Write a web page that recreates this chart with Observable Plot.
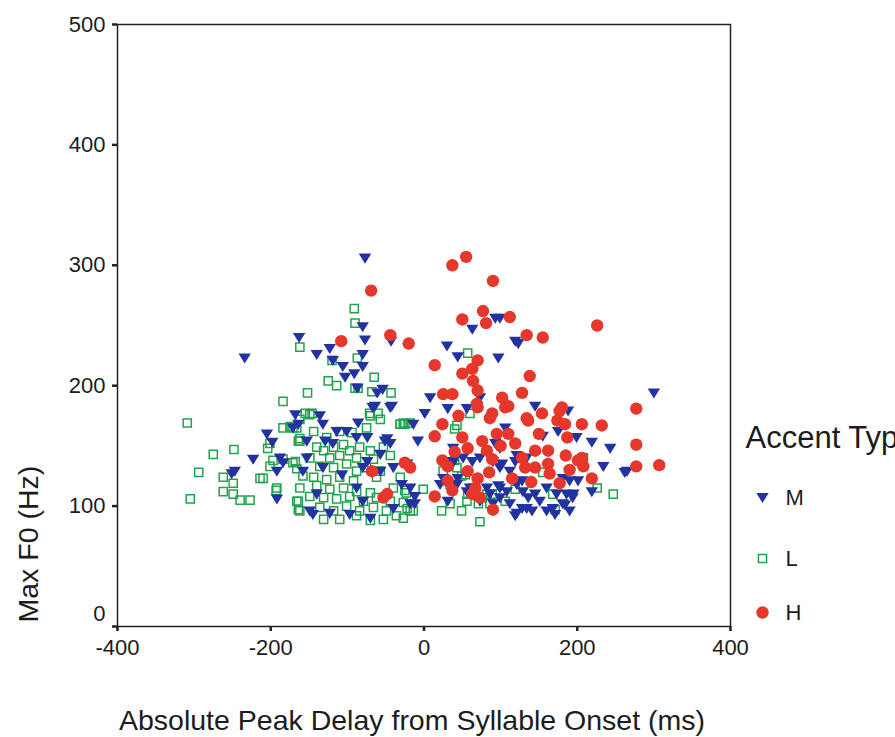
<!DOCTYPE html>
<html>
<head>
<meta charset="utf-8">
<script src="https://cdn.jsdelivr.net/npm/d3@7"></script>
<script src="https://cdn.jsdelivr.net/npm/@observablehq/plot@0.6"></script>
<style>
  html, body { margin: 0; padding: 0; background: #fff; overflow: hidden; }
  #chart svg { display: block; overflow: hidden; }
</style>
</head>
<body>
<div id="chart"></div>
<script>
// ---- Data (Absolute peak delay in ms, Max F0 in Hz) ----
const accentTypes = ["M", "L", "H"];
const xTicks = [-400, -200, 0, 200, 400];
const yTicks = [0, 100, 200, 300, 400, 500];
const xTitle = "Absolute Peak Delay from Syllable Onset (ms)";
const yTitle = "Max F0 (Hz)";
const legendTitle = "Accent Type";

const pointsM = [
  [-77,306],[-234,223],[-163,240],[-80,249],[-77,238],[-123,231],[-140,226],[-80,226],[-119,221],[-106,216],
  [-80,216],[-91,210],[-103,207],[-87,198],[-54,197],[-61,194],[-42,183],[-64,183],[-43,237],
  [63,247],[93,256],[99,256],[119,237],[123,235],[30,233],[44,224],[97,223],[8,190],[31,181],[56,181],[73,190],
  [1,177],[-14,168],[-8,154],[145,183],[175,162],[155,158],[219,153],[243,148],[234,133],[265,129],[300,194],
  [99,148],[121,142],[134,140],[90,137],[99,132],[112,129],[73,140],[63,137],[51,140],[38,137],[25,123],[21,118],
  [43,118],[60,115],[82,115],[99,115],[108,112],[121,118],[129,112],[136,107],[145,110],[151,104],[160,115],
  [173,110],[186,110],[195,110],[181,102],[168,98],[190,121],[160,96],[134,98],[121,94],[112,102],[99,107],
  [86,110],[90,102],[73,104],[56,112],[119,92],[171,93],[219,112],[190,96],[199,157],
  [262,128],[181,123],[201,121],[194,107],[184,101],[188,179],
  [-168,176],[-164,168],[-205,160],[-198,153],[-223,139],[-247,129],[-251,127],[-188,140],[-184,136],[-192,129],[-192,106],
  [-136,175],[-132,168],[-86,169],[-129,154],[-153,140],[-119,152],[-101,162],[-74,157],[-51,154],[-44,152],
  [-44,182],[-67,182],[-158,129],[-145,93],[-97,93],[-70,90],[-22,135],[-12,102],[-29,118],[-57,129],[-74,137],
  [-171,165],[-114,162],[-88,157],[-48,156],[-153,154],[-132,132],[-107,126],[-80,132],[-57,143],[-40,132],
  [-18,115],[-140,110],[-88,115],[-149,96],[-123,94],[-40,98],[-18,102],[-80,104],
  [38,148],[106,165],[93,152],[37,135],[102,135],[119,137],[44,123],[97,117],[128,121],[-12,108],[31,104],[128,98],[141,96]
];

const pointsL = [
  [-309,169],[-305,106],[-275,143],[-248,147],[-294,128],[-262,124],[-249,119],[-262,112],[-249,110],[-240,105],
  [-227,105],[-210,123],[-184,187],[-184,165],[-171,165],[-204,148],[-201,133],[-193,113],[-164,154],[-184,139],
  [-171,136],[-166,131],[-164,104],[-164,97],
  [-152,194],[-162,172],[-155,177],[-146,177],[-175,166],[-162,156],[-201,152],[-125,204],[-114,200],[-91,264],
  [-90,252],[-162,232],[-120,221],[-87,223],[-65,207],[-43,194],[-68,195],[-86,198],[-71,177],[-60,177],
  [-31,168],[-25,168],[-197,138],[-214,123],[-192,115],[-90,198],
  [-149,176],[-70,175],[-57,172],[-31,168],[-18,169],[-166,165],[-144,162],[-110,162],[-94,161],[-75,165],
  [-162,154],[-127,157],[-140,149],[-131,146],[-118,149],[-105,151],[-97,146],[-84,149],[-70,146],[-53,149],
  [-168,137],[-149,140],[-123,140],[-110,142],[-88,140],[-66,139],[-44,142],[-136,133],[-118,132],[-101,135],
  [-88,129],[-75,132],[-57,129],[-158,125],[-144,124],[-127,122],[-110,124],[-92,121],[-62,124],[-31,124],
  [-162,115],[-140,117],[-123,114],[-105,115],[-88,112],[-70,111],[-40,115],[-23,111],[-166,104],[-149,108],
  [-131,107],[-114,106],[-97,108],[-79,104],[-62,107],[-44,104],[-27,103],[-162,96],[-136,99],[-118,96],
  [-101,100],[-84,96],[-66,99],[-49,96],[-36,92],[-18,96],[-131,89],[-110,89],[-88,92],[-70,88],[-53,89],[-27,90],
  [57,227],[-27,169],[40,164],[60,177],[208,140],[226,115],[247,110],[-25,113],[-1,114],[-22,98],[-14,96],
  [23,96],[34,102],[49,96],[73,87],[82,110],[119,114],[25,129],[43,132],[49,125],[34,118],[57,110],[71,102],
  [86,102],[40,138],[43,167],[54,126],[63,115],[76,107],[89,110],[56,104],[106,104],[155,128],[168,110],[171,97]
];

const pointsH = [
  [37,300],[55,307],[90,287],[-69,279],[-108,237],[-44,242],[-20,235],[77,262],[50,255],[81,252],[112,257],
  [134,242],[155,240],[226,250],[14,217],[70,221],[63,214],[50,210],[138,208],[64,204],[25,193],[37,193],
  [70,196],[102,190],[128,194],[180,182],[69,185],[110,183],[277,181],[277,151],[277,133],[307,134],[206,168],
  [232,167],[187,157],[177,179],[174,171],[185,142],[201,138],[208,133],[219,123],[177,119],[162,146],[162,135],
  [164,127],[-25,136],[-18,132],[-68,129],[-48,110],[-53,107],[24,168],[14,158],[50,157],[70,182],[89,177],
  [106,182],[110,160],[136,171],[154,177],[57,148],[76,154],[82,146],[24,138],[31,133],[57,129],[70,123],
  [67,115],[89,139],[119,152],[128,140],[145,146],[115,123],[31,121],[14,108],[37,113],[63,110],[90,97],
  [132,132],[145,132],[73,107],[86,173],[134,173],[184,168],[206,140],[45,175],[95,160],[100,150],[150,160],
  [40,145],[85,128],[140,120],[190,130]
];

// ---- Build table ----
const rows = [];
for (const [type, pts] of [["L", pointsL], ["M", pointsM], ["H", pointsH]]) {
  for (const [delay, f0] of pts) rows.push({type, delay, f0});
}

const colors = {M: "#2232a0", L: "#22a24c", H: "#e6372c"};

const triangleDown = {
  draw(context, size) {
    const r = Math.sqrt(size / Math.PI);
    context.moveTo(-r, -r * 0.72);
    context.lineTo(r, -r * 0.72);
    context.lineTo(0, r * 0.9);
    context.closePath();
  }
};

const font = "'Liberation Sans', Arial, sans-serif";
const ink = "#1c1c1c";
const rTri = 6.2, rSq = 4.6, rCirc = 6.2;

const chart = Plot.plot({
  width: 895,
  height: 737,
  marginLeft: 117,
  marginRight: 165,
  marginTop: 24,
  marginBottom: 111,
  style: {fontFamily: font, background: "#fff", color: ink},
  x: {domain: [-400, 400]},
  y: {domain: [0, 500]},
  marks: [
    Plot.frame({stroke: "#222", strokeWidth: 1.5}),
    Plot.axisX({ticks: xTicks, tickSize: 5, tickPadding: 8, fontSize: 22, label: null, stroke: "#222", strokeWidth: 2.5, fill: ink,
      tickFormat: d => String(d)}),
    Plot.axisY({ticks: yTicks, tickSize: 5, tickPadding: 7, fontSize: 22, label: null, stroke: "#222", strokeWidth: 2.5, fill: ink,
      tickFormat: d => d === 0 ? "" : String(d)}),
    Plot.text([yTicks[0]], {x: xTicks[0], y: d => d, text: d => String(d), textAnchor: "end", dx: -12, dy: -13, fontSize: 22, fill: ink}),
    // data
    Plot.dot(rows.filter(d => d.type === "L"), {x: "delay", y: "f0", symbol: "square", r: rSq, stroke: colors.L, strokeWidth: 1.5, fill: "none"}),
    Plot.dot(rows.filter(d => d.type === "M"), {x: "delay", y: "f0", symbol: triangleDown, r: rTri, fill: colors.M, stroke: "none"}),
    Plot.dot(rows.filter(d => d.type === "H"), {x: "delay", y: "f0", symbol: "circle", r: rCirc, fill: colors.H, stroke: "none"}),
    // axis titles
    Plot.text([xTitle], {frameAnchor: "bottom", dx: -12, dy: 103, lineAnchor: "bottom", fontSize: 28.5, fill: ink}),
    Plot.text([yTitle], {frameAnchor: "left", rotate: -90, dx: -80, dy: 297, lineAnchor: "bottom", fontSize: 28.5, fill: ink}),
    // legend
    Plot.text([legendTitle], {frameAnchor: "right", textAnchor: "start", dx: 15, dy: 122, lineAnchor: "bottom", fontSize: 31, fill: ink}),
    Plot.dot([accentTypes[0]], {frameAnchor: "right", dx: 32, dy: 172, symbol: triangleDown, r: rTri, fill: colors.M}),
    Plot.dot([accentTypes[1]], {frameAnchor: "right", dx: 32, dy: 233, symbol: "square", r: rSq, stroke: colors.L, strokeWidth: 1.5, fill: "none"}),
    Plot.dot([accentTypes[2]], {frameAnchor: "right", dx: 32, dy: 287, symbol: "circle", r: rCirc, fill: colors.H}),
    Plot.text(accentTypes.slice(0, 1), {text: d => d, frameAnchor: "right", textAnchor: "start", dx: 55, dy: 172, fontSize: 22, fill: ink}),
    Plot.text(accentTypes.slice(1, 2), {text: d => d, frameAnchor: "right", textAnchor: "start", dx: 55, dy: 233, fontSize: 22, fill: ink}),
    Plot.text(accentTypes.slice(2, 3), {text: d => d, frameAnchor: "right", textAnchor: "start", dx: 55, dy: 287, fontSize: 22, fill: ink})
  ]
});
document.getElementById("chart").appendChild(chart);
</script>
</body>
</html>
